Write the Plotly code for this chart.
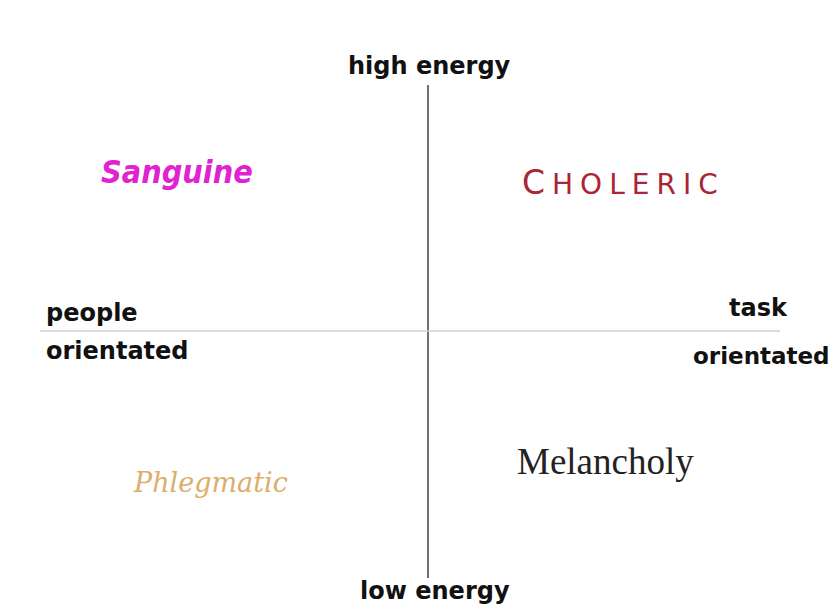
import plotly.graph_objects as go

# Axis geometry (logical coordinates, x: 0..838, y: 0..612 from top)
x_center = 428
y_center = 331
vert_span = [85, 578]
horiz_span = [40, 780]

# Quadrant labels
quad_names = ["Sanguine", "Choleric", "Phlegmatic", "Melancholy"]
quad_x = [177, 620, 210, 605]
quad_y = [172, 182, 482, 461]

# Axis end labels
axis_texts = ["high energy", "low energy", "people", "orientated", "task", "orientated"]
axis_x = [429, 435, 44, 44, 758, 691]
axis_y = [66, 591, 313, 351, 308, 356]
axis_anchor = ["center", "center", "left", "left", "center", "left"]

fig = go.Figure()

fig.add_trace(go.Scatter(x=[x_center, x_center], y=vert_span, mode="lines",
                         line=dict(color="#707070", width=2), hoverinfo="skip", showlegend=False))
fig.add_trace(go.Scatter(x=horiz_span, y=[y_center, y_center], mode="lines",
                         line=dict(color="#d0d0d0", width=1.5), hoverinfo="skip", showlegend=False))

bold = dict(family="DejaVu Sans", size=24, color="#111111")
for i, t in enumerate(axis_texts):
    f = dict(bold)
    if i == 5:
        f["size"] = 23
    fig.add_annotation(x=axis_x[i], y=axis_y[i], text="<b>" + t + "</b>", showarrow=False,
                       xanchor=axis_anchor[i], yanchor="middle", font=f)

chol = quad_names[1].upper()
styles = [
    dict(text="<b><i>" + quad_names[0] + "</i></b>",
         font=dict(family="DejaVu Sans Condensed, DejaVu Sans", size=32, color="#e022d0")),
    dict(text="<span style='font-size:33px;letter-spacing:7px'>" + chol[0] + "</span>"
              "<span style='letter-spacing:7px'>" + chol[1:-1] + "</span>" + chol[-1],
         font=dict(family="DejaVu Sans", size=28, color="#aa2535")),
    dict(text="<i>" + quad_names[2] + "</i>",
         font=dict(family="DejaVu Serif", size=27, color="#dcae6c")),
    dict(text=quad_names[3],
         font=dict(family="Liberation Serif, Times New Roman", size=37, color="#222222")),
]
for i, s in enumerate(styles):
    fig.add_annotation(x=quad_x[i], y=quad_y[i], text=s["text"], showarrow=False,
                       xanchor="center", yanchor="middle", font=s["font"])

# body margin of the page is 8px, so shift the ranges to keep logical = screen pixels
fig.update_xaxes(range=[8, 846], visible=False, fixedrange=True)
fig.update_yaxes(range=[620, 8], visible=False, fixedrange=True)
fig.update_layout(width=838, height=612, margin=dict(l=0, r=0, t=0, b=0),
                  paper_bgcolor="white", plot_bgcolor="white")

fig.write_html("out.html")
